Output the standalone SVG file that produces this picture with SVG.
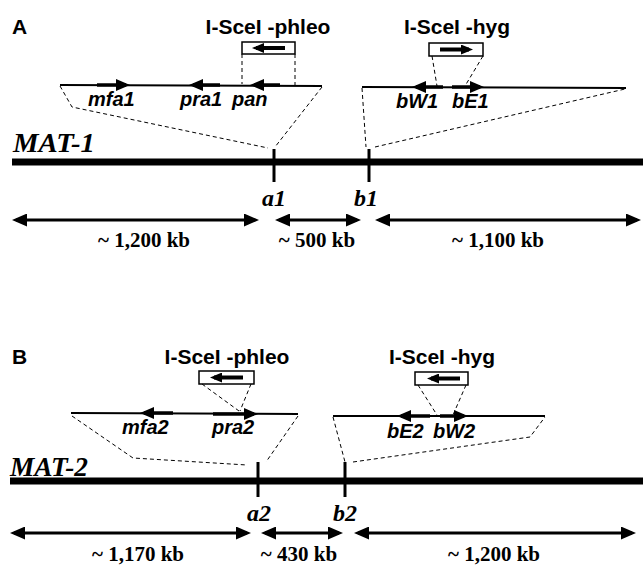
<svg xmlns="http://www.w3.org/2000/svg" width="643" height="569" viewBox="0 0 643 569">
<style>
.bg{fill:#fff}
.ttl{font-family:"Liberation Sans",Arial,sans-serif;font-weight:bold;font-size:21px;fill:#000}
.gene{font-family:"Liberation Sans",Arial,sans-serif;font-weight:bold;font-style:italic;font-size:20px;fill:#000}
.mat{font-family:"Liberation Serif","Times New Roman",serif;font-weight:bold;font-style:italic;font-size:27px;fill:#000}
.loc{font-family:"Liberation Serif","Times New Roman",serif;font-weight:bold;font-style:italic;font-size:24px;fill:#000;text-anchor:middle}
.kb{font-family:"Liberation Serif","Times New Roman",serif;font-weight:bold;font-size:21px;fill:#000;text-anchor:middle}
.chr{stroke:#000;stroke-width:7;fill:none}
.tick{stroke:#000;stroke-width:3;fill:none}
.gl{stroke:#000;stroke-width:2;fill:none}
.ga{stroke:#000;stroke-width:3.5;fill:none;marker-end:url(#gh)}
.box{fill:#fff;stroke:#000;stroke-width:1.5}
.ba{stroke:#000;stroke-width:4;fill:none;marker-end:url(#bh)}
.dash{stroke:#000;stroke-width:1;stroke-dasharray:4 3;fill:none}
.dbl{stroke:#000;stroke-width:3;fill:none;marker-start:url(#dh);marker-end:url(#dh)}
</style>
<defs>
<marker id="gh" markerUnits="userSpaceOnUse" markerWidth="14" markerHeight="12" viewBox="0 0 14 12" refX="10" refY="6" orient="auto"><path d="M0,0 L14,6 L0,12 z" fill="#000"/></marker>
<marker id="bh" markerUnits="userSpaceOnUse" markerWidth="12" markerHeight="10" viewBox="0 0 12 10" refX="8" refY="5" orient="auto"><path d="M0,0 L12,5 L0,10 z" fill="#000"/></marker>
<marker id="dh" markerUnits="userSpaceOnUse" markerWidth="15" markerHeight="13" viewBox="0 0 15 13" refX="11" refY="6.5" orient="auto-start-reverse"><path d="M0,0 L15,6.5 L0,13 z" fill="#000"/></marker>
</defs>
<rect class="bg" x="0" y="0" width="643" height="569"/>

<!-- Panel A -->
<g id="panelA-label"><text class="ttl" x="12" y="34">A</text></g>
<g id="A-phleo-cassette">
  <text class="ttl" x="268" y="34" text-anchor="middle">I-SceI -phleo</text>
  <rect class="box" x="242" y="42" width="53" height="12"/>
  <line class="ba" x1="285" y1="48" x2="256" y2="48"/>
</g>
<g id="A-hyg-cassette">
  <text class="ttl" x="457" y="34" text-anchor="middle">I-SceI -hyg</text>
  <rect class="box" x="429" y="43" width="54" height="13"/>
  <line class="ba" x1="440" y1="49.5" x2="469" y2="49.5"/>
</g>
<g id="A-a-locus">
  <line class="gl" x1="60" y1="85" x2="322" y2="86"/>
  <line class="ga" x1="97" y1="85" x2="126" y2="85"/>
  <line class="ga" x1="220" y1="85" x2="193" y2="85"/>
  <line class="ga" x1="280" y1="85" x2="254" y2="85"/>
  <text class="gene" x="88" y="106">mfa1</text>
  <text class="gene" x="180" y="106">pra1</text>
  <text class="gene" x="232" y="106">pan</text>
</g>
<g id="A-b-locus">
  <line class="gl" x1="362" y1="87" x2="626" y2="88"/>
  <line class="ga" x1="443" y1="87" x2="416" y2="87"/>
  <line class="ga" x1="452" y1="87" x2="480" y2="87"/>
  <text class="gene" x="396" y="108">bW1</text>
  <text class="gene" x="452" y="108">bE1</text>
</g>
<g id="A-chromosome">
  <text class="mat" x="13" y="152" textLength="82" lengthAdjust="spacingAndGlyphs">MAT-1</text>
  <line class="chr" x1="12" y1="162" x2="643" y2="162"/>
  <line class="tick" x1="274" y1="149" x2="274" y2="182"/>
  <line class="tick" x1="369" y1="149" x2="369" y2="182"/>
  <text class="loc" x="274" y="206">a1</text>
  <text class="loc" x="366" y="206">b1</text>
</g>
<g id="A-distances">
  <line class="dbl" x1="16" y1="220" x2="255" y2="220"/>
  <line class="dbl" x1="279" y1="220" x2="357" y2="220"/>
  <line class="dbl" x1="379" y1="220" x2="637" y2="220"/>
  <text class="kb" x="144" y="247">~ 1,200 kb</text>
  <text class="kb" x="317" y="247">~ 500 kb</text>
  <text class="kb" x="498" y="247">~ 1,100 kb</text>
</g>

<!-- Panel B -->
<g id="panelB-label"><text class="ttl" x="12" y="364">B</text></g>
<g id="B-phleo-cassette">
  <text class="ttl" x="227" y="364" text-anchor="middle">I-SceI -phleo</text>
  <rect class="box" x="199" y="371" width="55" height="13"/>
  <line class="ba" x1="243" y1="377.5" x2="214" y2="377.5"/>
</g>
<g id="B-hyg-cassette">
  <text class="ttl" x="442" y="364" text-anchor="middle">I-SceI -hyg</text>
  <rect class="box" x="415" y="372" width="53" height="13"/>
  <line class="ba" x1="460" y1="378.5" x2="431" y2="378.5"/>
</g>
<g id="B-a-locus">
  <line class="gl" x1="71" y1="413" x2="298" y2="414"/>
  <line class="ga" x1="173" y1="413" x2="144" y2="413"/>
  <line class="ga" x1="213" y1="414" x2="254" y2="414"/>
  <text class="gene" x="122" y="434">mfa2</text>
  <text class="gene" x="212" y="434">pra2</text>
</g>
<g id="B-b-locus">
  <line class="gl" x1="333" y1="416" x2="545" y2="416"/>
  <line class="ga" x1="430" y1="416" x2="401" y2="416"/>
  <line class="ga" x1="440" y1="416" x2="464" y2="416"/>
  <text class="gene" x="387" y="438">bE2</text>
  <text class="gene" x="433" y="438">bW2</text>
</g>
<g id="B-chromosome">
  <text class="mat" x="10" y="476" textLength="78" lengthAdjust="spacingAndGlyphs">MAT-2</text>
  <line class="chr" x1="10" y1="481" x2="643" y2="481"/>
  <line class="tick" x1="258" y1="462" x2="258" y2="497"/>
  <line class="tick" x1="345" y1="462" x2="345" y2="497"/>
  <text class="loc" x="259" y="521">a2</text>
  <text class="loc" x="345" y="521">b2</text>
</g>
<g id="B-distances">
  <line class="dbl" x1="14" y1="533" x2="247" y2="533"/>
  <line class="dbl" x1="265" y1="533" x2="339" y2="533"/>
  <line class="dbl" x1="358" y1="533" x2="632" y2="533"/>
  <text class="kb" x="138" y="561">~ 1,170 kb</text>
  <text class="kb" x="299" y="561">~ 430 kb</text>
  <text class="kb" x="494" y="561">~ 1,200 kb</text>
</g>

<g id="connectors">
  <line class="dash" x1="242" y1="54" x2="242" y2="84"/>
  <line class="dash" x1="295" y1="54" x2="295" y2="85"/>
  <line class="dash" x1="432" y1="56" x2="437" y2="86"/>
  <line class="dash" x1="483" y1="56" x2="465" y2="86"/>
  <polyline class="dash" points="60,86 72,107 268,148"/>
  <line class="dash" x1="322" y1="87" x2="275" y2="147"/>
  <line class="dash" x1="362" y1="88" x2="366" y2="147"/>
  <line class="dash" x1="375" y1="147" x2="625" y2="89"/>
  <line class="dash" x1="202" y1="384" x2="239" y2="411"/>
  <line class="dash" x1="251" y1="384" x2="240" y2="411"/>
  <line class="dash" x1="418" y1="385" x2="437" y2="415"/>
  <line class="dash" x1="466" y1="385" x2="453" y2="415"/>
  <polyline class="dash" points="72,416 133,458 247,465"/>
  <line class="dash" x1="298" y1="416" x2="266" y2="462"/>
  <line class="dash" x1="333" y1="417" x2="345" y2="462"/>
  <polyline class="dash" points="353,462 530,437 545,417"/>
</g>
</svg>
